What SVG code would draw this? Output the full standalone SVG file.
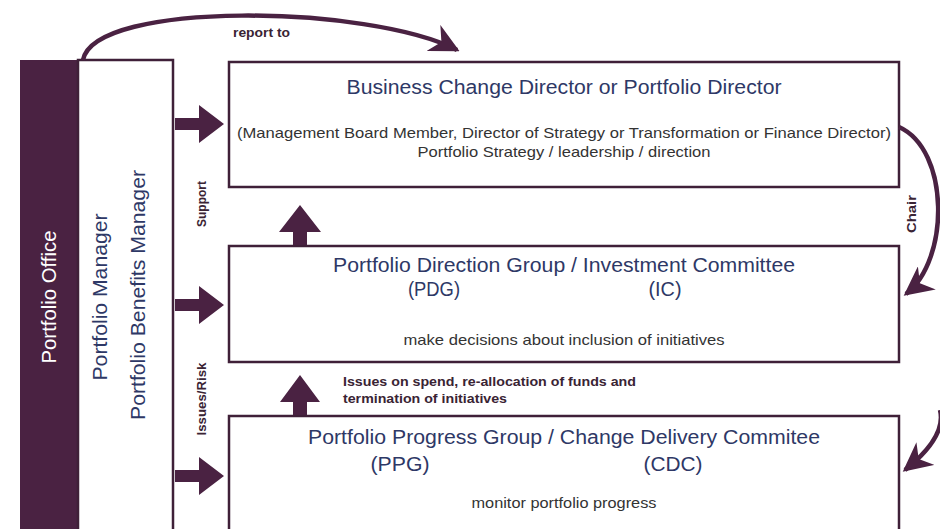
<svg xmlns="http://www.w3.org/2000/svg" width="940" height="529" viewBox="0 0 940 529">
<defs>
<style>
.box{fill:#fff;stroke:#3f2038;stroke-width:2.5}
.title{font-family:"Liberation Sans",Arial,sans-serif;font-size:20px;fill:#2e3866;text-anchor:middle}
.sub{font-family:"Liberation Sans",Arial,sans-serif;font-size:15px;fill:#333;text-anchor:middle}
.lbl{font-family:"Liberation Sans",Arial,sans-serif;font-size:12px;font-weight:bold;fill:#3a2434}
.vt{font-family:"Liberation Sans",Arial,sans-serif;font-size:19.5px;fill:#2e3866;text-anchor:middle}
.blk{fill:#4a2242}
.curve{fill:none;stroke:#4a2242;stroke-width:4.5}
</style>
<marker id="ah" viewBox="0 0 10 10" refX="9" refY="5" markerWidth="6.5" markerHeight="6.5" orient="auto" markerUnits="strokeWidth">
<path d="M0,0 L10,5 L0,10 L3,5 Z" fill="#4a2242"/>
</marker>
</defs>
<rect width="940" height="529" fill="#fff"/>

<g id="portfolio-office">
<rect x="20" y="60" width="58" height="480" fill="#4a2242"/>
<text class="vt" style="fill:#fff" transform="translate(56,297) rotate(-90)" textLength="133" lengthAdjust="spacingAndGlyphs">Portfolio Office</text>
</g>

<g id="portfolio-manager">
<rect x="78" y="60" width="95" height="490" class="box"/>
<text class="vt" transform="translate(107,297) rotate(-90)" textLength="167" lengthAdjust="spacingAndGlyphs">Portfolio Manager</text>
<text class="vt" transform="translate(145,295) rotate(-90)" textLength="250" lengthAdjust="spacingAndGlyphs">Portfolio Benefits Manager</text>
</g>

<g id="business-change-director">
<rect x="229" y="62" width="670" height="125" class="box"/>
<text class="title" x="564" y="94" textLength="435" lengthAdjust="spacingAndGlyphs">Business Change Director or Portfolio Director</text>
<text class="sub" x="564" y="138" textLength="654" lengthAdjust="spacingAndGlyphs">(Management Board Member, Director of Strategy or Transformation or Finance Director)</text>
<text class="sub" x="564" y="157" textLength="293" lengthAdjust="spacingAndGlyphs">Portfolio Strategy / leadership / direction</text>
</g>

<g id="pdg">
<rect x="229" y="246" width="670" height="116" class="box"/>
<text class="title" x="564" y="272" textLength="462" lengthAdjust="spacingAndGlyphs">Portfolio Direction Group / Investment Committee</text>
<text class="title" x="434" y="296" textLength="52" lengthAdjust="spacingAndGlyphs">(PDG)</text>
<text class="title" x="665" y="296" textLength="33" lengthAdjust="spacingAndGlyphs">(IC)</text>
<text class="sub" x="564" y="345" textLength="321" lengthAdjust="spacingAndGlyphs">make decisions about inclusion of initiatives</text>
</g>

<g id="ppg">
<rect x="229" y="416" width="670" height="130" class="box"/>
<text class="title" x="564" y="444" textLength="512" lengthAdjust="spacingAndGlyphs">Portfolio Progress Group / Change Delivery Commitee</text>
<text class="title" x="400" y="471" textLength="59" lengthAdjust="spacingAndGlyphs">(PPG)</text>
<text class="title" x="673" y="471" textLength="59" lengthAdjust="spacingAndGlyphs">(CDC)</text>
<text class="sub" x="564" y="508" textLength="185" lengthAdjust="spacingAndGlyphs">monitor portfolio progress</text>
</g>

<g id="connectors">
<path class="blk" d="M175,118 L199,118 L199,105 L224,124 L199,143 L199,130 L175,130 Z"/>
<path class="blk" d="M175,299 L199,299 L199,286 L224,305 L199,324 L199,311 L175,311 Z"/>
<path class="blk" d="M175,470 L199,470 L199,457 L224,476 L199,495 L199,482 L175,482 Z"/>
<path class="blk" d="M293,245 L293,232 L279,232 L300,205 L321,232 L307,232 L307,245 Z"/>
<path class="blk" d="M293,415 L293,402 L280,402 L300,375 L320,402 L307,402 L307,415 Z"/>
<path class="curve" d="M83,60 C95,0 370,5 457,50" marker-end="url(#ah)"/>
<path class="curve" d="M899,127 C950,150 950,260 906,294" marker-end="url(#ah)"/>
<path class="curve" d="M940,410 C945,430 930,450 905,470" marker-end="url(#ah)"/>
<text class="lbl" x="233" y="37" textLength="57" lengthAdjust="spacingAndGlyphs">report to</text>
<text class="lbl" transform="translate(206,204) rotate(-90)" text-anchor="middle" textLength="46" lengthAdjust="spacingAndGlyphs">Support</text>
<text class="lbl" transform="translate(206,399) rotate(-90)" text-anchor="middle" textLength="73" lengthAdjust="spacingAndGlyphs">Issues/Risk</text>
<text class="lbl" transform="translate(916,214) rotate(-90)" text-anchor="middle" textLength="38" lengthAdjust="spacingAndGlyphs">Chair</text>
<text class="lbl" x="343" y="386" textLength="293" lengthAdjust="spacingAndGlyphs">Issues on spend, re-allocation of funds and</text>
<text class="lbl" x="343" y="403" textLength="164" lengthAdjust="spacingAndGlyphs">termination of initiatives</text>
</g>
</svg>
